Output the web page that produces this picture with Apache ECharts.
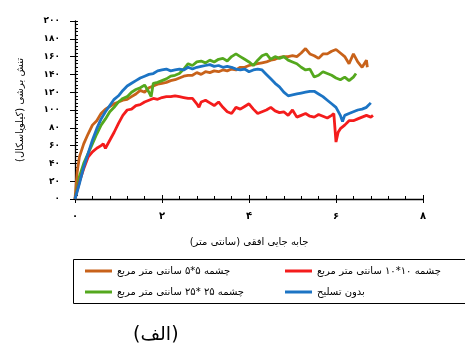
<!DOCTYPE html>
<html><head><meta charset="utf-8">
<script src="https://cdn.jsdelivr.net/npm/echarts@6/dist/echarts.min.js"></script>
<style>html,body{margin:0;padding:0;background:#fff}#c{width:465px;height:356px}</style>
</head><body><div id="c"></div>
<script>
const seriesNames = ['چشمه ۵*۵ سانتی متر مربع','چشمه ۱۰*۱۰ سانتی متر مربع','چشمه ۲۵ *۲۵ سانتی متر مربع','بدون تسلیح'];
const xTicks = [0,2,4,6,8];
const yTicks = [0,20,40,60,80,100,120,140,160,180,200];
const orangeData = [[0,0],[0.05,30],[0.1,47],[0.2,62],[0.3,73],[0.4,83],[0.5,88],[0.6,96],[0.7,101],[0.8,104],[0.9,107],[1.0,109],[1.1,111],[1.2,112],[1.3,115],[1.4,118],[1.5,122],[1.6,120],[1.7,125],[1.8,127],[1.9,129],[2.0,130],[2.1,131],[2.2,133],[2.3,134],[2.4,136],[2.5,138],[2.6,139],[2.7,139],[2.8,142],[2.9,140],[3.0,143],[3.1,142],[3.2,144],[3.3,143],[3.4,145],[3.5,144],[3.6,146],[3.7,145],[3.8,148],[3.9,148],[4.0,150],[4.1,151],[4.2,152],[4.3,153],[4.4,154],[4.5,156],[4.6,157],[4.7,159],[4.8,160],[4.9,160],[5.0,161],[5.1,160],[5.2,164],[5.3,169],[5.4,163],[5.5,161],[5.6,158],[5.7,163],[5.8,163],[5.9,166],[6.0,168],[6.1,164],[6.2,160],[6.3,152],[6.4,163],[6.5,154],[6.6,148],[6.7,156],[6.72,148]];
const redData = [[0,0],[0.1,19],[0.2,34],[0.3,47],[0.4,53],[0.5,57],[0.6,60],[0.65,62],[0.7,57],[0.8,66],[0.9,75],[1.0,85],[1.1,94],[1.2,100],[1.3,101],[1.4,105],[1.5,106],[1.6,109],[1.7,111],[1.8,113],[1.9,112],[2.0,114],[2.1,115],[2.2,115],[2.3,116],[2.4,115],[2.5,114],[2.6,113],[2.7,113],[2.8,107],[2.85,103],[2.9,109],[3.0,111],[3.1,108],[3.2,105],[3.3,109],[3.4,103],[3.5,98],[3.6,96],[3.7,103],[3.8,101],[3.9,104],[4.0,107],[4.1,101],[4.2,96],[4.3,98],[4.4,100],[4.5,103],[4.6,99],[4.7,97],[4.8,98],[4.9,94],[5.0,100],[5.1,92],[5.2,94],[5.3,96],[5.4,93],[5.5,92],[5.6,95],[5.7,93],[5.8,91],[5.9,94],[5.95,96],[6.0,64],[6.05,75],[6.1,79],[6.2,83],[6.3,88],[6.4,88],[6.5,90],[6.6,92],[6.7,94],[6.8,92],[6.85,94]];
const greenData = [[0,0],[0.1,25],[0.2,40],[0.3,51],[0.4,62],[0.5,73],[0.6,83],[0.7,90],[0.8,98],[0.9,103],[1.0,109],[1.1,113],[1.2,115],[1.3,120],[1.4,123],[1.5,125],[1.6,128],[1.7,120],[1.75,115],[1.8,130],[1.9,131],[2.0,133],[2.1,135],[2.2,138],[2.3,139],[2.4,141],[2.5,146],[2.6,152],[2.7,150],[2.8,154],[2.9,155],[3.0,153],[3.1,156],[3.2,154],[3.3,157],[3.4,158],[3.5,155],[3.6,160],[3.7,163],[3.8,160],[3.9,157],[4.0,154],[4.1,150],[4.2,156],[4.3,161],[4.4,163],[4.5,157],[4.6,160],[4.7,158],[4.8,160],[4.9,156],[5.0,154],[5.1,152],[5.2,148],[5.3,145],[5.4,146],[5.5,137],[5.6,139],[5.7,143],[5.8,141],[5.9,139],[6.0,136],[6.1,134],[6.2,137],[6.3,133],[6.4,137],[6.46,141]];
const blueData = [[0,0],[0.1,17],[0.2,36],[0.3,51],[0.4,66],[0.5,79],[0.6,90],[0.7,98],[0.8,105],[0.9,112],[1.0,116],[1.1,122],[1.2,127],[1.3,130],[1.4,133],[1.5,136],[1.6,138],[1.7,140],[1.8,141],[1.9,144],[2.0,145],[2.1,146],[2.2,144],[2.3,145],[2.4,146],[2.5,145],[2.6,148],[2.7,146],[2.8,148],[2.9,149],[3.0,150],[3.1,151],[3.2,149],[3.3,150],[3.4,148],[3.5,149],[3.6,148],[3.7,146],[3.8,145],[3.9,146],[4.0,143],[4.1,145],[4.2,146],[4.3,145],[4.4,140],[4.5,135],[4.6,130],[4.7,126],[4.8,120],[4.9,116],[5.0,117],[5.1,118],[5.2,119],[5.3,120],[5.4,121],[5.5,121],[5.6,118],[5.7,115],[5.8,111],[5.9,107],[6.0,103],[6.1,94],[6.15,87],[6.2,94],[6.3,96],[6.4,98],[6.5,100],[6.6,101],[6.7,103],[6.8,108]];
const colors = ['#c8621a','#f41c1c','#54a81e','#1c74c4'];

const fa = v => String(v).replace(/[0-9]/g, d => '۰۱۲۳۴۵۶۷۸۹'[d]);
const FONT = 'DejaVu Sans';
const allData = [orangeData, redData, greenData, blueData];

const legendPos = [[85,266],[285,266],[85,287],[285,287]];
const chart = echarts.init(document.getElementById('c'), null, {renderer:'canvas'});
const xMin = xTicks[0], xMax = xTicks[xTicks.length-1];
const yMin = yTicks[0], yMax = yTicks[yTicks.length-1];
chart.setOption({
  animation:false,
  textStyle:{fontFamily:FONT},
  grid:{left:75,right:42,top:21,bottom:157,containLabel:false},
  xAxis:[{type:'value',min:xMin,max:xMax,interval:2,
    name:'جابه جایی افقی (سانتی متر)',nameLocation:'middle',nameGap:38,
    nameTextStyle:{fontFamily:FONT,fontSize:10,color:'#000'},
    axisLine:{show:true,lineStyle:{color:'#000',width:1.3}},
    axisTick:{show:true,inside:true,length:4,lineStyle:{color:'#000'}},
    minorTick:{show:true,splitNumber:5,length:3,lineStyle:{color:'#000'}},
    splitLine:{show:false},
    axisLabel:{formatter:v=>fa(v),fontSize:10,fontWeight:'bold',color:'#000',margin:12}},
   {type:'value',min:xMin,max:xMax,interval:2,position:'bottom',
    axisLine:{show:false},axisTick:{show:true,inside:false,length:4,lineStyle:{color:'#000'}},
    axisLabel:{show:false},splitLine:{show:false}}],
  yAxis:[{type:'value',min:yMin,max:yMax,interval:20,
    name:'تنش برشی (کیلوپاسکال)',nameLocation:'middle',nameGap:50,nameRotate:90,
    nameTextStyle:{fontFamily:FONT,fontSize:10,color:'#000'},
    axisLine:{show:true,lineStyle:{color:'#000',width:1.3}},
    axisTick:{show:true,inside:true,length:3,lineStyle:{color:'#000'}},
    minorTick:{show:true,splitNumber:5,length:3,lineStyle:{color:'#000'}},
    splitLine:{show:false},
    axisLabel:{formatter:v=>fa(v),fontSize:9,fontWeight:'bold',color:'#000',margin:15}},
   {type:'value',min:yMin,max:yMax,interval:20,position:'left',
    axisLine:{show:false},axisTick:{show:true,inside:false,length:5,lineStyle:{color:'#000'}},
    axisLabel:{show:false},splitLine:{show:false}}],
  legend: seriesNames.map((n,i)=>({data:[n],left:legendPos[i][0],top:legendPos[i][1],
    icon:'rect',itemWidth:27,itemHeight:3,itemGap:4,padding:0,
    textStyle:{fontFamily:FONT,fontSize:10,color:'#000'}})),
  graphic:[
    {type:'rect',shape:{x:73.5,y:259.5,width:400,height:44},style:{fill:'none',stroke:'#000',lineWidth:1}},
    {type:'text',left:133,top:326,style:{text:'(الف)',font:'19px "DejaVu Sans"',fill:'#000'}}
  ],
  series: allData.map((d,i)=>({name:seriesNames[i],type:'line',data:d,showSymbol:false,symbol:'none',
    lineStyle:{color:colors[i],width:2.8},itemStyle:{color:colors[i]},z:[2,3,2,4][i]}))
});
</script></body></html>
